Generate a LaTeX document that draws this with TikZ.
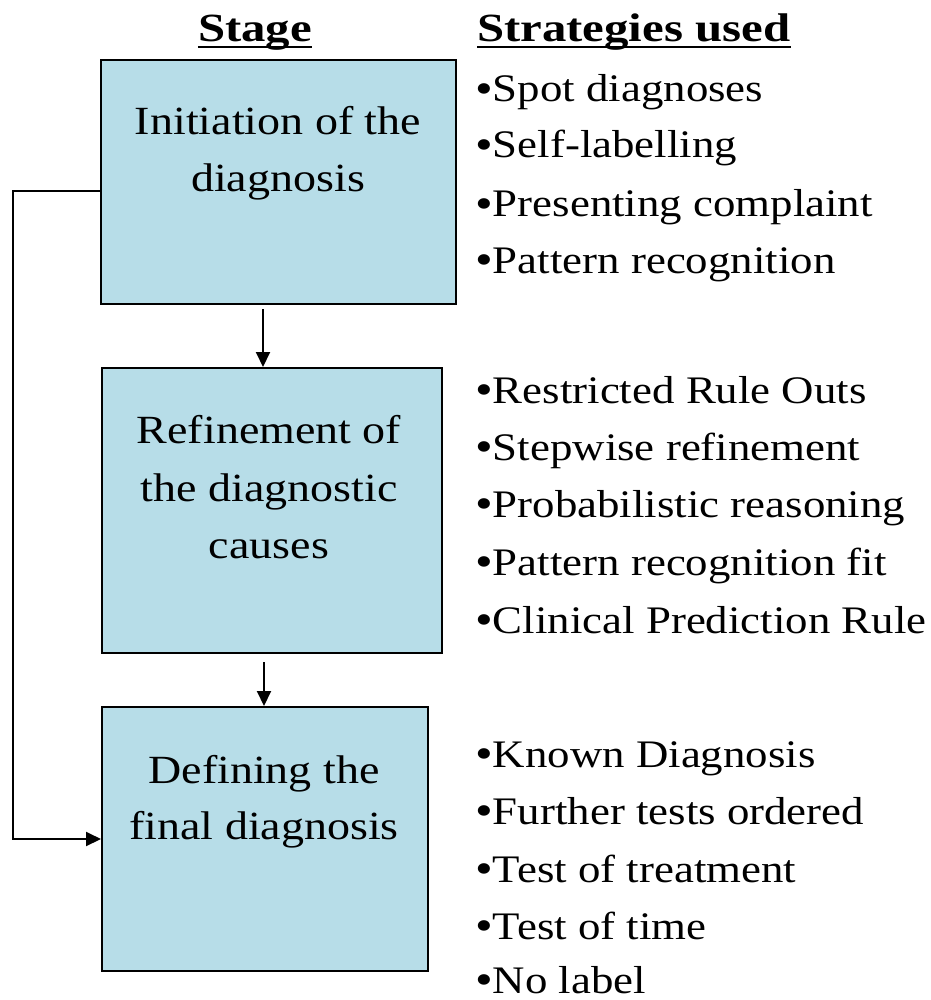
\documentclass[tikz,border=0pt]{standalone}
\usepackage{fontspec}
\setmainfont[FakeStretch=1.15, BoldFeatures={FakeStretch=1.22}]{Liberation Serif}
\usetikzlibrary{arrows.meta}
\definecolor{boxblue}{RGB}{183,221,232}
\newcommand\bulmark{\raisebox{-1.5pt}{\fontsize{44}{44}\selectfont •}}
\tikzset{
  stagebox/.style={draw=black, line width=2pt, fill=boxblue, anchor=north west, inner sep=0pt},
  boxtext/.style={anchor=base, inner sep=0pt, font=\fontsize{40}{46}\selectfont},
  itemtext/.style={anchor=base west, inner sep=0pt, font=\fontsize{39}{46}\selectfont},
  headtext/.style={anchor=base west, inner sep=0pt, font=\fontsize{40}{46}\selectfont\bfseries},
  flow/.style={draw=black, line width=2pt, -{Triangle[width=14pt,length=15pt]}},
  uline/.style={draw=black, line width=2pt}
}
\begin{document}
\begin{tikzpicture}[x=1pt,y=-1pt]
\useasboundingbox (0,0) rectangle (930,1000);
% headings
\node[headtext, anchor=base] (h1) at (255,42) {Stage};
\node[headtext] (h2) at (477,42) {Strategies used};
\draw[uline] ([yshift=-5pt]h1.base west) -- ([yshift=-5pt]h1.base east);
\draw[uline] ([yshift=-5pt]h2.base west) -- ([yshift=-5pt]h2.base east);
% boxes
\node[stagebox, minimum width=355pt, minimum height=244pt] (b1) at (100,59) {};
\node[stagebox, minimum width=340pt, minimum height=285pt] (b2) at (101,367) {};
\node[stagebox, minimum width=326pt, minimum height=264pt] (b3) at (101,706) {};
% box texts
\node[boxtext] (t1a) at (278,135) {Initiation of the};
\node[boxtext] (t1b) at (278,192) {diagnosis};
\node[boxtext] (t2a) at (269,443) {Refinement of};
\node[boxtext] (t2b) at (269,501) {the diagnostic};
\node[boxtext] (t2c) at (269,558) {causes};
\node[boxtext] (t3a) at (264,783) {Defining the};
\node[boxtext] (t3b) at (264,839) {final diagnosis};
% strategies
\node[itemtext] (s1) at (475,102) {\bulmark Spot diagnoses};
\node[itemtext] (s2) at (475,158) {\bulmark Self-labelling};
\node[itemtext] (s3) at (475,217) {\bulmark Presenting complaint};
\node[itemtext] (s4) at (475,273) {\bulmark Pattern recognition};
\node[itemtext] (s5) at (475,403) {\bulmark Restricted Rule Outs};
\node[itemtext] (s6) at (475,460) {\bulmark Stepwise refinement};
\node[itemtext] (s7) at (475,517) {\bulmark Probabilistic reasoning};
\node[itemtext] (s8) at (475,575) {\bulmark Pattern recognition fit};
\node[itemtext] (s9) at (475,633) {\bulmark Clinical Prediction Rule};
\node[itemtext] (s10) at (475,767) {\bulmark Known Diagnosis};
\node[itemtext] (s11) at (475,824) {\bulmark Further tests ordered};
\node[itemtext] (s12) at (475,882) {\bulmark Test of treatment};
\node[itemtext] (s13) at (475,939) {\bulmark Test of time};
\node[itemtext] (s14) at (475,993) {\bulmark No label};
% connectors
\coordinate (a1) at (263,309);
\coordinate (a2) at (264,662);
\coordinate (fb) at (13,191);
\draw[flow] (a1) -- (a1 |- b2.north);
\draw[flow] (a2) -- (a2 |- b3.north);
\draw[flow] (b1.west |- fb) -- (fb) |- (b3.west);
\end{tikzpicture}
\end{document}
